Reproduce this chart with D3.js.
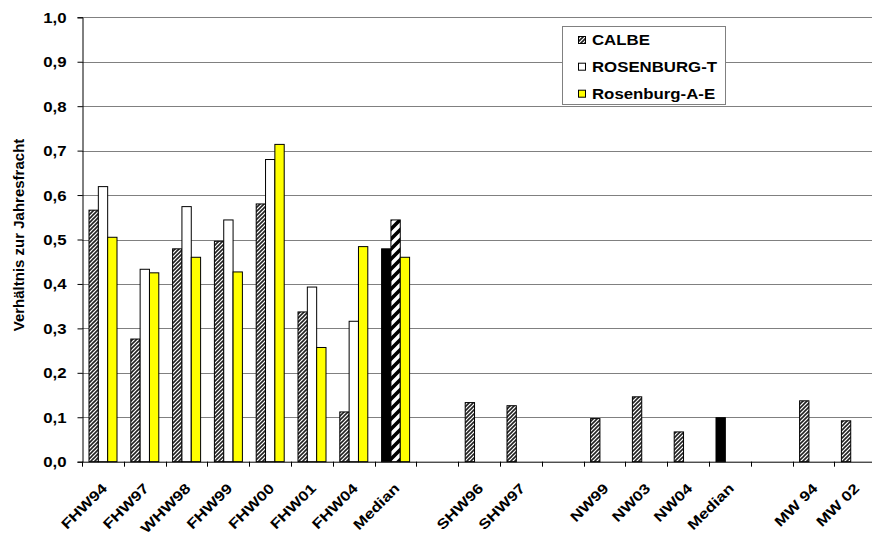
<!DOCTYPE html>
<html><head><meta charset="utf-8">
<script src="https://cdn.jsdelivr.net/npm/d3@7"></script>
<style>body{margin:0;background:#fff}svg{display:block;font-family:"Liberation Sans",Arial,sans-serif;font-weight:bold}</style>
</head><body><svg id="c" width="872" height="535"></svg>
<script>
const categories = ["FHW94","FHW97","WHW98","FHW99","FHW00","FHW01","FHW04","Median","","SHW96","SHW97","","NW99","NW03","NW04","Median","","MW 94","MW 02"];
const seriesNames = ["CALBE","ROSENBURG-T","Rosenburg-A-E"];
const calbe = [0.566,0.276,0.479,0.496,0.58,0.337,0.112,0.479,null,0.133,0.126,null,0.097,0.146,0.067,0.099,null,0.137,0.092];
const rosenburgT = [0.619,0.433,0.574,0.544,0.68,0.393,0.316,0.544,null,null,null,null,null,null,null,null,null,null,null];
const rosenburgAE = [0.505,0.425,0.46,0.427,0.714,0.257,0.484,0.46,null,null,null,null,null,null,null,null,null,null,null];
const yTicks = [0,0.1,0.2,0.3,0.4,0.5,0.6,0.7,0.8,0.9,1.0];
const yTitle = "Verhältnis zur Jahresfracht";

const SX = 1.2; // wide glyphs seen in the reference
const FONT = "'Liberation Sans',Arial,sans-serif";
const seriesValues = [calbe, rosenburgT, rosenburgAE];
const svg = d3.select("#c");
const defs = svg.append("defs");
const p1 = defs.append("pattern").attr("id","hatch").attr("patternUnits","userSpaceOnUse").attr("width",4).attr("height",4);
p1.append("rect").attr("width",4).attr("height",4).attr("fill","#fff");
p1.append("path").attr("d","M-1,1 l2,-2 M0,4 l4,-4 M3,5 l2,-2").attr("stroke","#222").attr("stroke-width",1.6);
const p2 = defs.append("pattern").attr("id","hatch2").attr("patternUnits","userSpaceOnUse").attr("width",10).attr("height",10);
p2.append("rect").attr("width",10).attr("height",10).attr("fill","#fff");
p2.append("path").attr("d","M-2.5,2.5 l5,-5 M0,10 l10,-10 M7.5,12.5 l5,-5").attr("stroke","#000").attr("stroke-width",3.6);

const x0 = d3.scaleBand().domain(d3.range(categories.length)).range([82, 82 + 19*41.8]).padding(0);
const x1 = d3.scaleBand().domain(seriesNames).range([7, 35]).padding(0);
const y = d3.scaleLinear().domain([0,1]).range([461.7, 17.3]);

svg.append("g").selectAll("line").data(yTicks.filter(d=>d>0)).join("line")
  .attr("x1",82).attr("x2",880).attr("y1",d=>Math.round(y(d))+0.5).attr("y2",d=>Math.round(y(d))+0.5)
  .attr("stroke","#808080").attr("stroke-width",1);

const yAxis = d3.axisLeft(y).tickValues(yTicks).tickSize(5).tickPadding(0).tickFormat(d=>d3.format(".1f")(d).replace(".",","));
const ga = svg.append("g").attr("transform","translate(82.5,0)").call(yAxis);
ga.select(".domain").attr("stroke","#000");
ga.selectAll(".tick line").attr("stroke","#000");
ga.selectAll(".tick text").attr("font-size",14).attr("font-weight","bold").attr("font-family",FONT).attr("fill","#000")
  .attr("x",0).attr("dy","0.36em").attr("text-anchor","end").attr("transform",`translate(-16,0) scale(${SX},1)`);

function fillFor(si, ci){
  const med = categories[ci] === "Median";
  if (si===0) return med ? "#000" : "url(#hatch)";
  if (si===1) return med ? "url(#hatch2)" : "#fff";
  return "#ffff00";
}
const bars = [];
seriesValues.forEach((arr,si)=>arr.forEach((v,ci)=>{ if(v!=null) bars.push({si,ci,v}); }));
svg.append("g").selectAll("rect").data(bars).join("rect")
  .attr("x",d=>x0(d.ci)+x1(seriesNames[d.si]))
  .attr("width",x1.bandwidth())
  .attr("y",d=>y(d.v))
  .attr("height",d=>y(0)-y(d.v))
  .attr("fill",d=>fillFor(d.si,d.ci))
  .attr("stroke","#000").attr("stroke-width",1);

const xAxis = d3.axisBottom(x0).tickSize(0).tickFormat(i=>categories[i]);
const gx = svg.append("g").attr("transform",`translate(0,${y(0)})`).call(xAxis);
gx.select(".domain").attr("stroke","#000");
gx.selectAll(".tick text").attr("font-size",14).attr("font-weight","bold").attr("font-family",FONT).attr("fill","#000")
  .attr("text-anchor","end").attr("dy",0).attr("y",0)
  .attr("transform",`translate(5,27.5) rotate(-45) scale(1.22,1)`);
svg.append("g").selectAll("line").data(d3.range(categories.length+1)).join("line")
  .attr("x1",i=>Math.round(82+i*41.8)+0.5).attr("x2",i=>Math.round(82+i*41.8)+0.5)
  .attr("y1",y(0)).attr("y2",y(0)+5).attr("stroke","#000");

svg.append("text").attr("transform",`translate(24,235) rotate(-90)`).attr("text-anchor","middle")
  .attr("font-size",15).attr("fill","#000").text(yTitle);

const lg = svg.append("g");
lg.append("rect").attr("x",562.5).attr("y",26.5).attr("width",163).attr("height",78).attr("fill","#fff").attr("stroke","#808080");
const lfill = ["url(#hatch)","#fff","#ffff00"];
const rows = [40,66.7,93.7];
seriesNames.forEach((n,i)=>{
  lg.append("rect").attr("x",578.5).attr("y",rows[i]-3.5).attr("width",7).attr("height",7).attr("fill",lfill[i]).attr("stroke","#000");
  lg.append("text").attr("transform",`translate(592,${rows[i]+5}) scale(${SX},1)`).attr("font-size",14).attr("fill","#000").text(n);
});
</script></body></html>
